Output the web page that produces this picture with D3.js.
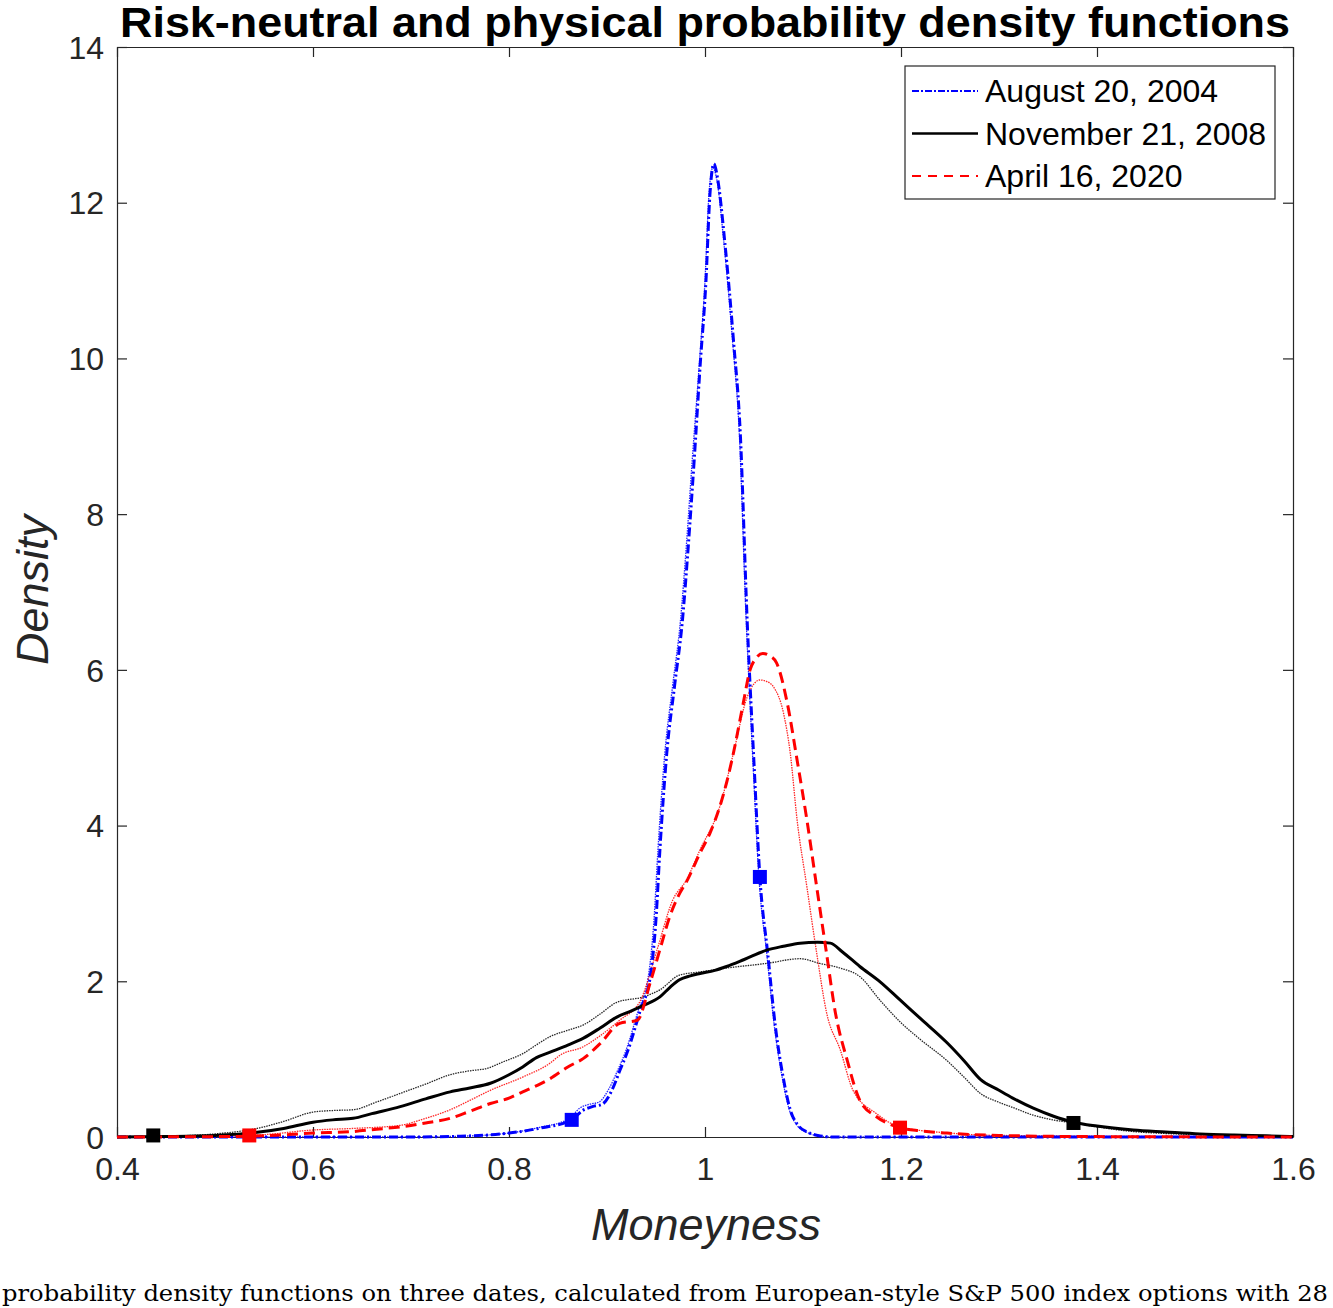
<!DOCTYPE html>
<meta charset="utf-8">
<style>
body { margin: 0; background: #fff; }
svg { display: block; }
.tick text { font: 32px "Liberation Sans", Arial, sans-serif; fill: #262626; }
.lbl { font: italic 45px "Liberation Sans", Arial, sans-serif; fill: #262626; }
.legend text { font: 32px "Liberation Sans", Arial, sans-serif; fill: #000; }
</style>
<svg width="1333" height="1308"></svg>
<script src="https://d3js.org/d3.v7.min.js"></script>
<script>

// moneyness / density pairs
var augRN_x = [0.40,0.70,0.75,0.80,0.83,0.864,0.875,0.885,0.895,0.905,0.913,0.921,0.934,0.944,0.950,0.954,0.961,0.969,0.977,0.983,0.989,0.995,1.001,1.005,1.009,1.013,1.020,1.029,1.036,1.043,1.050,1.056,1.064,1.072,1.080,1.087,1.095,1.105,1.115,1.130,1.60];
var augRN_y = [0,0,0.01,0.05,0.11,0.22,0.34,0.39,0.42,0.60,0.85,1.10,1.63,2.05,2.80,3.69,4.93,5.80,6.64,7.60,8.70,9.90,11.00,12.10,12.50,12.30,11.52,10.24,9.04,6.64,4.80,3.34,2.36,1.40,0.75,0.35,0.15,0.06,0.02,0,0];
var augP_x = [0.40,0.70,0.75,0.80,0.83,0.862,0.872,0.882,0.892,0.902,0.911,0.919,0.932,0.942,0.948,0.952,0.959,0.967,0.975,0.981,0.987,0.994,1.000,1.004,1.008,1.012,1.019,1.028,1.035,1.042,1.049,1.055,1.063,1.071,1.079,1.086,1.094,1.104,1.114,1.130,1.60];
var augP_y = [0,0,0.01,0.05,0.12,0.24,0.37,0.42,0.45,0.62,0.86,1.10,1.63,2.05,2.80,3.69,4.93,5.80,6.64,7.60,8.70,9.90,11.00,12.10,12.45,12.30,11.52,10.24,9.04,6.64,4.80,3.34,2.36,1.40,0.75,0.35,0.15,0.06,0.02,0,0];

var novRN_x = [0.40,0.45,0.50,0.543,0.57,0.60,0.62,0.641,0.66,0.689,0.715,0.74,0.76,0.781,0.80,0.814,0.828,0.842,0.86,0.876,0.893,0.91,0.925,0.937,0.954,0.964,0.974,0.985,0.995,1.01,1.022,1.04,1.063,1.08,1.097,1.115,1.128,1.14,1.158,1.179,1.199,1.22,1.247,1.265,1.281,1.30,1.314,1.335,1.355,1.376,1.40,1.437,1.47,1.505,1.54,1.573,1.60];
var novRN_y = [0,0.005,0.02,0.06,0.11,0.19,0.22,0.24,0.30,0.39,0.49,0.58,0.63,0.69,0.80,0.90,1.02,1.09,1.18,1.27,1.40,1.54,1.62,1.69,1.80,1.92,2.02,2.07,2.10,2.14,2.19,2.28,2.40,2.45,2.49,2.50,2.49,2.38,2.19,1.99,1.76,1.52,1.21,0.97,0.74,0.60,0.50,0.37,0.27,0.19,0.14,0.09,0.065,0.04,0.025,0.015,0.005];
var novP_x = [0.40,0.45,0.50,0.543,0.57,0.60,0.62,0.641,0.665,0.689,0.715,0.74,0.76,0.777,0.795,0.814,0.83,0.842,0.86,0.876,0.893,0.91,0.937,0.954,0.974,0.995,1.022,1.063,1.097,1.117,1.138,1.158,1.179,1.199,1.22,1.247,1.265,1.281,1.299,1.314,1.335,1.355,1.376,1.40,1.437,1.47,1.505,1.55,1.60];
var novP_y = [0,0.01,0.04,0.11,0.20,0.32,0.34,0.35,0.45,0.56,0.68,0.80,0.85,0.88,0.97,1.07,1.20,1.29,1.37,1.44,1.58,1.73,1.80,1.89,2.08,2.12,2.17,2.23,2.29,2.23,2.17,2.06,1.75,1.48,1.25,0.98,0.76,0.56,0.45,0.38,0.28,0.22,0.18,0.13,0.07,0.045,0.03,0.015,0.005];

var aprRN_x = [0.40,0.50,0.55,0.60,0.641,0.665,0.689,0.715,0.74,0.76,0.781,0.80,0.814,0.83,0.842,0.86,0.876,0.893,0.913,0.931,0.944,0.955,0.964,0.973,0.982,0.995,1.005,1.015,1.022,1.029,1.039,1.046,1.052,1.059,1.066,1.073,1.084,1.094,1.104,1.114,1.124,1.133,1.145,1.158,1.175,1.199,1.22,1.247,1.30,1.40,1.60];
var aprRN_y = [0,0.005,0.015,0.05,0.07,0.10,0.13,0.18,0.24,0.33,0.43,0.50,0.58,0.67,0.75,0.90,1.01,1.20,1.46,1.50,1.98,2.45,2.83,3.10,3.30,3.65,3.90,4.24,4.55,4.93,5.57,6.00,6.15,6.21,6.18,6.09,5.57,4.84,4.07,3.21,2.36,1.60,0.99,0.47,0.26,0.12,0.08,0.05,0.02,0.005,0];
var aprP_x = [0.40,0.50,0.55,0.60,0.641,0.689,0.715,0.74,0.76,0.781,0.814,0.842,0.852,0.876,0.893,0.913,0.934,0.951,0.967,0.981,0.995,1.015,1.029,1.043,1.050,1.056,1.063,1.070,1.080,1.087,1.094,1.104,1.114,1.124,1.138,1.151,1.175,1.199,1.25,1.30,1.60];
var aprP_y = [0,0.01,0.03,0.09,0.11,0.15,0.24,0.35,0.47,0.60,0.77,0.95,1.05,1.16,1.30,1.50,1.75,2.40,3.04,3.30,3.69,4.24,4.93,5.65,5.82,5.87,5.85,5.78,5.45,4.93,4.07,3.21,2.36,1.60,1.12,0.60,0.30,0.13,0.05,0.02,0];

// square markers on the risk-neutral curves
var augMark_x = [0.864, 1.056], augMark_y = [0.22, 3.34];
var novMark_x = [0.437, 1.376], novMark_y = [0.02, 0.18];
var aprMark_x = [0.535, 1.199], aprMark_y = [0.02, 0.12];

var legendLabels = ["August 20, 2004", "November 21, 2008", "April 16, 2020"];
var xTicks = [0.4, 0.6, 0.8, 1, 1.2, 1.4, 1.6];
var yTicks = [0, 2, 4, 6, 8, 10, 12, 14];

var svg = d3.select("svg"),
    margin = {top: 47, right: 40, bottom: 171, left: 117},
    width = +svg.attr("width") - margin.left - margin.right,
    height = +svg.attr("height") - margin.top - margin.bottom,
    g = svg.append("g").attr("transform", "translate(" + margin.left + "," + margin.top + ")");

var x = d3.scaleLinear().domain([0.4, 1.6]).range([0, width]);
var y = d3.scaleLinear().domain([0, 14]).range([height, 0]);

function pairs(xs, ys) { return xs.map(function(v, i) { return [v, ys[i]]; }); }

var line = d3.line()
    .x(function(d) { return x(d[0]); })
    .y(function(d) { return y(d[1]); })
    .curve(d3.curveMonotoneX);

var series = [
  {rn: pairs(augRN_x, augRN_y), p: pairs(augP_x, augP_y), m: pairs(augMark_x, augMark_y), color: "#0000ff", dash: "9,3,2,3"},
  {rn: pairs(novRN_x, novRN_y), p: pairs(novP_x, novP_y), m: pairs(novMark_x, novMark_y), color: "#000000", dash: null},
  {rn: pairs(aprRN_x, aprRN_y), p: pairs(aprP_x, aprP_y), m: pairs(aprMark_x, aprMark_y), color: "#ff0000", dash: "11,6"}
];

// box + ticks on all four sides, pointing in
var axisColor = "#262626";
var xb = g.append("g").attr("class", "axis").attr("transform", "translate(0," + height + ")")
    .call(d3.axisBottom(x).tickValues(xTicks).tickSizeInner(-10).tickSizeOuter(0).tickPadding(20).tickFormat(d3.format("")));
var xt = g.append("g").attr("class", "axis")
    .call(d3.axisTop(x).tickValues(xTicks).tickSizeInner(-10).tickSizeOuter(0).tickFormat(""));
var yl = g.append("g").attr("class", "axis")
    .call(d3.axisLeft(y).tickValues(yTicks).tickSizeInner(-10).tickSizeOuter(0).tickPadding(13));
var yr = g.append("g").attr("class", "axis").attr("transform", "translate(" + width + ",0)")
    .call(d3.axisRight(y).tickValues(yTicks).tickSizeInner(-10).tickSizeOuter(0).tickFormat(""));
g.selectAll(".axis path, .axis line").attr("stroke", axisColor).attr("stroke-width", 1.2);
xb.selectAll(".tick text").attr("dy", "0.71em");
yl.selectAll(".tick text").attr("dy", "0.35em");

// physical densities (thin dotted)
g.selectAll(".phys").data(series).enter().append("path")
    .attr("class", "phys")
    .attr("fill", "none")
    .attr("stroke", function(d) { return d.color; })
    .attr("stroke-width", 1.3)
    .attr("stroke-dasharray", "1.5,1")
    .attr("opacity", 0.85)
    .attr("d", function(d) { return line(d.p); });

// risk-neutral densities
g.selectAll(".rn").data(series).enter().append("path")
    .attr("class", "rn")
    .attr("fill", "none")
    .attr("stroke", function(d) { return d.color; })
    .attr("stroke-width", 3)
    .attr("stroke-dasharray", function(d) { return d.dash; })
    .attr("d", function(d) { return line(d.rn); });

series.forEach(function(s) {
  g.selectAll(null).data(s.m).enter().append("rect")
      .attr("x", function(d) { return x(d[0]) - 7; })
      .attr("y", function(d) { return y(d[1]) - 7; })
      .attr("width", 14).attr("height", 14)
      .attr("fill", s.color);
});

// legend
var lg = svg.append("g").attr("class", "legend").attr("transform", "translate(905,66)");
lg.append("rect").attr("width", 370).attr("height", 133)
    .attr("fill", "#fff").attr("stroke", axisColor).attr("stroke-width", 1.2);
legendLabels.forEach(function(t, i) {
  var yy = 25 + i * 42.5;
  lg.append("line").attr("x1", 7).attr("x2", 73).attr("y1", yy).attr("y2", yy)
      .attr("stroke", series[i].color).attr("stroke-width", i === 1 ? 2.5 : 2)
      .attr("stroke-dasharray", i === 0 ? "7,2,2,2" : i === 2 ? "9,7" : null);
  lg.append("text").attr("x", 80).attr("y", yy).attr("dy", "0.35em").text(t);
});

// titles
svg.append("text")
    .attr("x", 705).attr("y", 37)
    .attr("text-anchor", "middle")
    .attr("textLength", 1170).attr("lengthAdjust", "spacingAndGlyphs")
    .style("font", "bold 42px 'Liberation Sans', Arial, sans-serif")
    .text("Risk-neutral and physical probability density functions");

svg.append("text").attr("class", "lbl")
    .attr("x", 706).attr("y", 1240).attr("text-anchor", "middle")
    .text("Moneyness");

svg.append("text").attr("class", "lbl")
    .attr("transform", "translate(48,590) rotate(-90)")
    .attr("text-anchor", "middle")
    .text("Density");

// caption line under the figure (cut by the page edge in the source)
svg.append("text")
    .attr("x", 2).attr("y", 1301)
    .style("font", "23px 'DejaVu Serif', 'Liberation Serif', serif")
    .attr("textLength", 1326).attr("lengthAdjust", "spacingAndGlyphs")
    .text("probability density functions on three dates, calculated from European-style S&P 500 index options with 28");

</script>
